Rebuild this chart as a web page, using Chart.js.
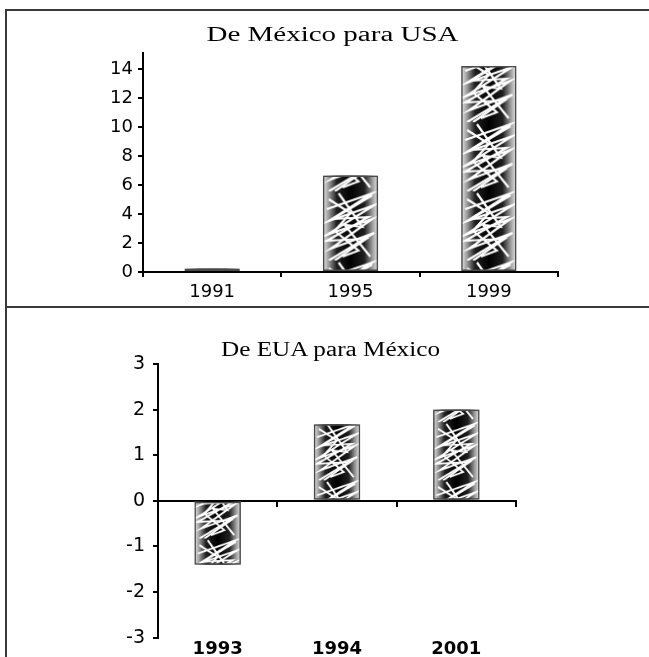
<!DOCTYPE html>
<html>
<head>
<meta charset="utf-8">
<script src="https://cdn.jsdelivr.net/npm/chart.js@4/dist/chart.umd.min.js"></script>
<style>
  html, body { margin: 0; padding: 0; background: #fff; }
  body { width: 649px; height: 657px; position: relative; overflow: hidden; }
  .cell { position: absolute; left: 0; width: 649px; }
  .rule-top { position: absolute; left: 5px; top: 9px; width: 660px; height: 0; border-top: 2px solid #3a3a3a; }
  .rule-mid { position: absolute; left: 5px; top: 306px; width: 660px; height: 0; border-top: 2px solid #3a3a3a; }
  .rule-left { position: absolute; left: 5px; top: 9px; width: 0; height: 660px; border-left: 2px solid #3a3a3a; }
  .title {
    position: absolute; left: 0; width: 649px; text-align: center;
    font-family: "Liberation Serif", "Times New Roman", serif; font-size: 20px; color: #000;
    line-height: 24px; white-space: nowrap;
  }
  canvas { position: absolute; left: 0; top: 0; }
</style>
</head>
<body>
<div class="cell" id="top-cell" style="top:0;height:307px;">
  <canvas id="top-chart" width="649" height="307"></canvas>
</div>
<div class="cell" id="bottom-cell" style="top:307px;height:350px;">
  <canvas id="bottom-chart" width="649" height="350"></canvas>
</div>
<div class="title" style="top:22px;left:8px;transform:scaleX(1.45);">De México para USA</div>
<div class="title" style="top:337px;left:6px;transform:scaleX(1.26);">De EUA para México</div>
<div class="rule-top"></div>
<div class="rule-mid"></div>
<div class="rule-left"></div>
<script>
const topYears = ["1991", "1995", "1999"];
const topValues = [0.24, 6.65, 14.2];
const topTicks = [0, 2, 4, 6, 8, 10, 12, 14];

const bottomYears = ["1993", "1994", "2001"];
const bottomValues = [-1.4, 1.68, 2.0];
const bottomTicks = [-3, -2, -1, 0, 1, 2, 3];

const labelFont = "'DejaVu Sans', Arial, sans-serif";

// white zig-zag texture tile, stretched to each bar's width
const TILE_W = 56;
const scribbleTile = (() => {
  const tile = document.createElement("canvas");
  tile.width = TILE_W;
  tile.height = 70;
  const c = tile.getContext("2d");
  c.strokeStyle = "#ffffff";
  c.lineWidth = 2.2;
  c.lineJoin = "miter";
  const paths = [
    [[4, 18], [50, 2], [6, 30], [52, 14], [4, 44], [50, 28], [8, 58], [52, 42], [6, 70]],
    [[50, 4], [10, 28], [46, 26], [4, 50], [44, 48], [12, 70]],
    [[16, 2], [40, 36], [22, 34], [48, 66]],
    [[6, 8], [28, 22], [12, 40], [36, 60], [20, 66]]
  ];
  paths.forEach((path) => {
    c.beginPath();
    path.forEach(([x, y], i) => (i ? c.lineTo(x, y) : c.moveTo(x, y)));
    c.stroke();
  });
  return tile;
})();

function barBox(ctx, barPct) {
  const xs = ctx.chart.scales.x;
  if (!xs || ctx.dataIndex === undefined || !ctx.chart.chartArea) {
    return null;
  }
  const cx = xs.getPixelForValue(ctx.dataIndex);
  const half = (xs.width / xs.getLabels().length) * barPct / 2;
  return { left: cx - half, right: cx + half, width: half * 2 };
}

function barScribble(barPct) {
  return (ctx) => {
    const box = barBox(ctx, barPct);
    const pattern = ctx.chart.ctx.createPattern(scribbleTile, "repeat");
    if (box) {
      const k = box.width / TILE_W;
      pattern.setTransform(new DOMMatrix().translate(box.left, ctx.chart.chartArea.top).scale(k, k));
    }
    return pattern;
  };
}

function barShade(barPct) {
  return (ctx) => {
    const box = barBox(ctx, barPct);
    if (!box) {
      return "#000";
    }
    const g = ctx.chart.ctx.createLinearGradient(box.left, 0, box.right, 0);
    g.addColorStop(0, "#e8e8e8");
    g.addColorStop(0.1, "#a0a0a0");
    g.addColorStop(0.25, "#202020");
    g.addColorStop(0.5, "#000000");
    g.addColorStop(0.75, "#202020");
    g.addColorStop(0.9, "#a0a0a0");
    g.addColorStop(1, "#e8e8e8");
    return g;
  };
}

// dataset 0 is painted last, so the scribble + outline layer goes first
function barDatasets(values, barPct) {
  return [
    {
      data: values,
      backgroundColor: barScribble(barPct),
      borderColor: "#4a4a4a",
      borderWidth: 1.5,
      borderSkipped: false,
      grouped: false,
      barPercentage: barPct,
      categoryPercentage: 1
    },
    {
      data: values,
      backgroundColor: barShade(barPct),
      borderWidth: 0,
      grouped: false,
      barPercentage: barPct,
      categoryPercentage: 1
    }
  ];
}

const fixedTicks = (list) => (scale) => {
  scale.ticks = list.map((v) => ({ value: v }));
};

// top chart: De México para USA
new Chart(document.getElementById("top-chart"), {
  type: "bar",
  data: {
    labels: topYears,
    datasets: barDatasets(topValues, 0.4)
  },
  options: {
    responsive: false,
    animation: false,
    layout: { padding: { top: 53, right: 91, left: 0, bottom: 0 } },
    plugins: { legend: { display: false }, tooltip: { enabled: false } },
    scales: {
      x: {
        offset: true,
        grid: { display: true, drawOnChartArea: false, offset: true, color: "#000", tickLength: 5, lineWidth: 2 },
        border: { display: true, color: "#000", width: 2 },
        ticks: { color: "#000", padding: 5, font: { family: labelFont, size: 18 } },
        afterFit: (scale) => { scale.height = 35; }
      },
      y: {
        min: 0,
        max: 15.1,
        afterBuildTicks: fixedTicks(topTicks),
        grid: { display: true, drawOnChartArea: false, color: "#000", tickLength: 5, lineWidth: 2 },
        border: { display: true, color: "#000", width: 2 },
        ticks: { color: "#000", padding: 5, font: { family: labelFont, size: 18 } },
        afterFit: (scale) => { scale.width = 143; }
      }
    }
  }
});

// bottom chart: De EUA para México
new Chart(document.getElementById("bottom-chart"), {
  type: "bar",
  data: {
    labels: bottomYears,
    datasets: barDatasets(bottomValues, 0.39)
  },
  options: {
    responsive: false,
    animation: false,
    layout: { padding: { top: 57, right: 133, left: 0, bottom: 0 } },
    plugins: { legend: { display: false }, tooltip: { enabled: false } },
    scales: {
      x: {
        position: { y: 0 },
        offset: true,
        grid: { display: true, drawOnChartArea: false, offset: true, color: "#000", tickLength: 5, lineWidth: 2 },
        border: { display: true, color: "#000", width: 2 },
        ticks: { display: false }
      },
      x2: {
        type: "category",
        labels: bottomYears,
        position: "bottom",
        offset: true,
        grid: { display: false, drawTicks: false },
        border: { display: false },
        ticks: { color: "#000", padding: 1, font: { family: labelFont, size: 18, weight: "bold" } },
        afterFit: (scale) => { scale.height = 17; }
      },
      y: {
        min: -3,
        max: 3,
        afterBuildTicks: fixedTicks(bottomTicks),
        grid: { display: true, drawOnChartArea: false, color: "#000", tickLength: 5, lineWidth: 2 },
        border: { display: true, color: "#000", width: 2 },
        ticks: { color: "#000", padding: 8, font: { family: labelFont, size: 19 } },
        afterFit: (scale) => { scale.width = 158; }
      }
    }
  }
});
</script>
</body>
</html>
